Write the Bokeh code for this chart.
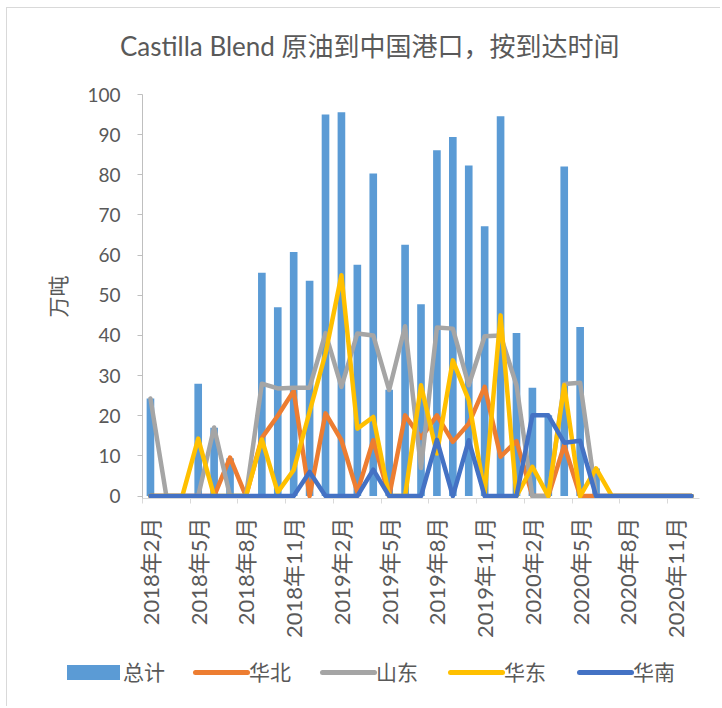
import math
from bokeh.plotting import figure
from bokeh.layouts import column
from bokeh.models import (ColumnDataSource, Range1d, FixedTicker, Div)
from bokeh.embed import file_html
from bokeh.resources import INLINE

# ---- data (万吨), monthly 2018-02 .. 2020-12 ----
months = ["2018年2月", "2018年3月", "2018年4月", "2018年5月", "2018年6月", "2018年7月",
          "2018年8月", "2018年9月", "2018年10月", "2018年11月", "2018年12月", "2019年1月",
          "2019年2月", "2019年3月", "2019年4月", "2019年5月", "2019年6月", "2019年7月",
          "2019年8月", "2019年9月", "2019年10月", "2019年11月", "2019年12月", "2020年1月",
          "2020年2月", "2020年3月", "2020年4月", "2020年5月", "2020年6月", "2020年7月",
          "2020年8月", "2020年9月", "2020年10月", "2020年11月", "2020年12月"]
total = [24.3, 0, 0, 28.0, 17.0, 9.4, 0, 55.6, 47.0, 60.8, 53.6, 95.0, 95.6, 57.6, 80.3,
         26.5, 62.6, 47.8, 86.1, 89.4, 82.3, 67.2, 94.6, 40.6, 27.0, 20.1, 82.1, 42.1, 6.9,
         0, 0, 0, 0, 0, 0]
huabei = [0, 0, 0, 0, 0, 9.6, 0, 14.5, 20.0, 26.2, 0, 20.6, 13.9, 1.0, 13.9, 0, 20.1, 14.5,
          20.1, 13.5, 18.0, 27.2, 9.8, 13.7, 0, 0, 12.7, 0, 0, 0, 0, 0, 0, 0, 0]
shandong = [24.3, 0, 0, 0, 17.1, 0, 0, 28.0, 26.8, 27.0, 27.0, 40.6, 27.2, 40.5, 40.0, 26.4,
            42.3, 7.0, 42.0, 41.7, 27.6, 39.8, 40.0, 27.6, 0, 0, 27.9, 28.2, 0, 0, 0, 0, 0, 0, 0]
huadong = [0, 0, 0, 14.3, 0, 0, 0, 14.1, 1.0, 6.5, 21.0, 35.5, 55.0, 16.8, 19.7, 0, 0, 27.6,
           10.6, 33.8, 23.9, 0.5, 45.0, 0, 7.3, 0, 27.6, 0, 6.9, 0, 0, 0, 0, 0, 0]
huanan = [0, 0, 0, 0, 0, 0, 0, 0, 0, 0, 6.0, 0, 0, 0, 6.6, 0, 0, 0, 14.0, 0, 13.9, 0, 0, 0,
          20.1, 20.1, 13.3, 13.8, 0, 0, 0, 0, 0, 0, 0]
y_ticks = [0, 10, 20, 30, 40, 50, 60, 70, 80, 90, 100]
title_text = "Castilla Blend 原油到中国港口，按到达时间"
y_label = "万吨"
legend_names = ["总计", "华北", "山东", "华东", "华南"]

idx = list(range(len(months)))
src = ColumnDataSource(dict(x=idx, total=total, huabei=huabei, shandong=shandong,
                            huadong=huadong, huanan=huanan))

FONT = "Lato, 'Noto Sans CJK SC', sans-serif"
TXT = "#595959"
BAR_C = "#5B9BD5"
LINE_C = ["#ED7D31", "#A5A5A5", "#FFC000", "#4472C4"]

# title strip
title_div = Div(text=(f'<div style="position:relative;width:713px;height:60px;">'
                      f'<div style="position:absolute;left:113px;top:22px;line-height:32px;'
                      f'font-size:26px;font-family:{FONT};color:{TXT};white-space:nowrap;">'
                      f'{title_text}</div></div>'),
                width=713, height=60, margin=0)

p = figure(width=713, height=577, output_backend="svg", toolbar_location=None,
           x_range=Range1d(-0.5, len(months) - 0.5), y_range=Range1d(-0.6, 100),
           min_border_left=135, min_border_right=21, min_border_top=26,
           min_border_bottom=147)
p.outline_line_color = None
p.xgrid.visible = False
p.ygrid.visible = False

p.vbar(x="x", top="total", bottom=0, width=0.48, source=src,
       fill_color=BAR_C, line_color=None)
for col, color in zip(["huabei", "shandong", "huadong", "huanan"], LINE_C):
    p.line(x="x", y=col, source=src, line_color=color, line_width=4.5,
           line_join="round", line_cap="round")

# x axis
xa = p.xaxis[0]
major = list(range(0, len(months), 3))
xa.ticker = FixedTicker(ticks=major, minor_ticks=[m - 0.5 for m in major])
xa.major_label_overrides = {m: months[m] for m in major}
xa.major_label_orientation = math.pi / 2
xa.major_tick_out = 0
xa.major_tick_in = 0
xa.minor_tick_out = 5
xa.minor_tick_in = 0
xa.minor_tick_line_color = "#D9D9D9"
xa.axis_line_color = "#D9D9D9"
xa.major_label_standoff = 14
xa.major_label_text_font = FONT
xa.major_label_text_font_size = "22px"
xa.major_label_text_color = TXT

# y axis
ya = p.yaxis[0]
ya.ticker = FixedTicker(ticks=y_ticks)
ya.major_tick_out = 5
ya.major_tick_in = 0
ya.minor_tick_line_color = None
ya.axis_line_color = "#BFBFBF"
ya.major_tick_line_color = "#BFBFBF"
ya.major_label_standoff = 17
ya.major_label_text_font = FONT
ya.major_label_text_font_size = "19px"
ya.major_label_text_color = TXT
ya.axis_label = y_label
ya.axis_label_text_font = FONT
ya.axis_label_text_font_size = "21px"
ya.axis_label_text_font_style = "normal"
ya.axis_label_text_color = TXT
ya.axis_label_standoff = 14

# legend strip under the chart (HTML, real text)
glyph_left = [60, 186, 313, 441, 570]
parts = []
for i, name in enumerate(legend_names):
    gx = glyph_left[i]
    if i == 0:
        parts.append(f'<div style="position:absolute;left:{gx}px;top:20px;width:53px;'
                     f'height:15px;background:{BAR_C};"></div>')
    else:
        parts.append(f'<div style="position:absolute;left:{gx}px;top:25px;width:57px;'
                     f'height:5px;border-radius:2.5px;background:{LINE_C[i-1]};"></div>')
    parts.append(f'<div style="position:absolute;left:{gx + 56}px;top:13px;'
                 f'line-height:28px;font-size:21px;font-family:{FONT};color:{TXT};'
                 f'white-space:nowrap;">{name}</div>')
html = ('<div style="position:relative;width:713px;height:61px;">' + "".join(parts)
        + '</div>')
leg = Div(text=html, width=713, height=61, margin=0)

layout = column(title_div, p, leg, spacing=0, margin=(7, 0, 0, 6),
                styles={"border-top": "1px solid #D9D9D9",
                        "border-left": "1px solid #D9D9D9"})
open("out.html", "w").write(file_html(layout, INLINE))
